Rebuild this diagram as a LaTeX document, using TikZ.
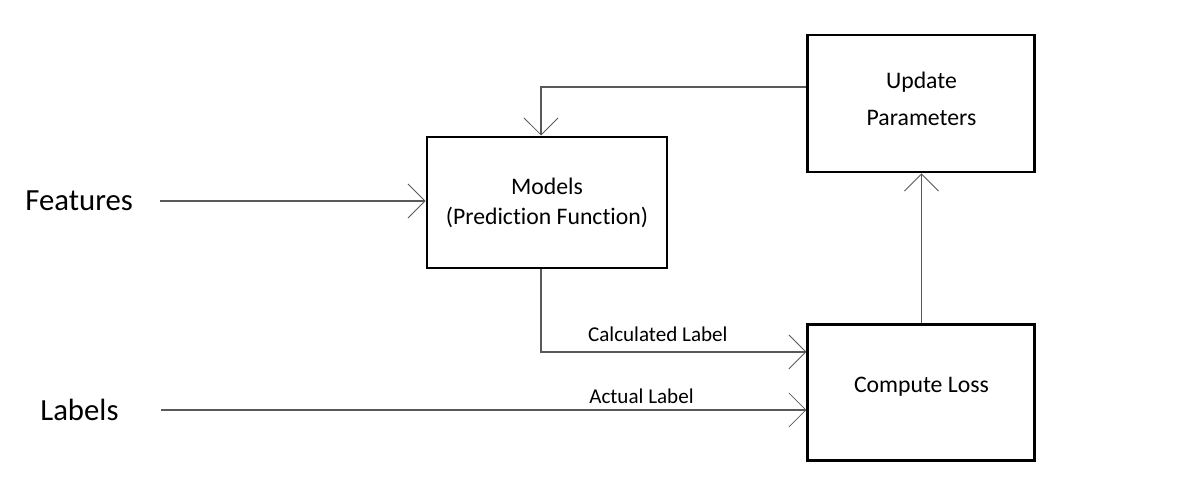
\documentclass[tikz,border=0pt]{standalone}
\usepackage{fontspec}
\setmainfont[Ligatures=NoCommon]{Carlito}
\usetikzlibrary{positioning,arrows.meta}

\tikzset{
	block/.style={draw, line width=1.7pt, align=center, minimum width=4.54cm, font=\fontsize{13.5}{17}\selectfont},
	link/.style={draw=black!65, line width=0.7pt, -{Straight Barb[length=3.4mm,width=6.8mm,line width=0.5pt]}},
	lbl/.style={font=\fontsize{12}{14}\selectfont},
	side/.style={inner sep=0pt, anchor=west, font=\fontsize{17.5}{20}\selectfont}
}

\begin{document}
\begin{tikzpicture}
	\useasboundingbox (0,0) rectangle (23.54,10.04);

	\node(models)[block, minimum width=4.8cm, minimum height=2.62cm] at (10.94,5.99) {Models\\(Prediction Function)};
	\node(update)[block, minimum height=2.74cm, right=2.76cm of models, yshift=1.98cm] {Update\\[4pt]Parameters\\[-11.5pt]\mbox{}};
	\node(compute)[block, minimum height=2.72cm, below=3cm of update] {Compute Loss\\[-8pt]\mbox{}};

	\node(features)[side] at (0.5,6.02) {Features};
	\node(labels)[side] at (0.8,1.84) {Labels};

	\draw[link, shorten <=0.54cm] (features.east) -- (features.east -| models.west);
	\draw[link] ([xshift=-0.12cm]models.south) |- node[lbl, above=2pt, pos=0.72]{Calculated\ Label} ([yshift=0.82cm]compute.west);
	\draw[link, shorten <=0.84cm] (labels.east) -- node[lbl, above, pos=0.76]{Actual Label} (labels.east -| compute.west);
	\draw[link] (compute) -- (update);
	\draw[link] ([yshift=0.33cm]update.west) -| ([xshift=-0.12cm]models.north);
\end{tikzpicture}
\end{document}
